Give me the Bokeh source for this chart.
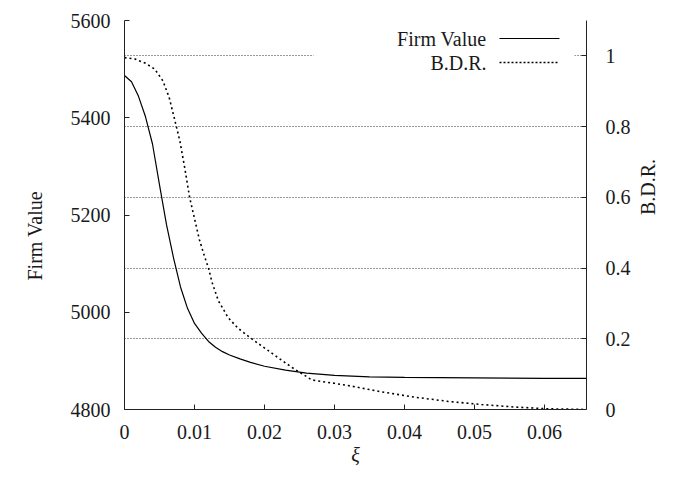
import math
from bokeh.plotting import figure
from bokeh.models import Range1d, LinearAxis, FixedTicker, Label, BoxAnnotation, Title
from bokeh.embed import file_html
from bokeh.resources import INLINE

# ---- data ----
fv_xi = [0, 0.001, 0.002, 0.003, 0.004, 0.005, 0.006, 0.007, 0.008, 0.009, 0.010,
         0.011, 0.012, 0.013, 0.014, 0.015, 0.0165, 0.018, 0.020, 0.023, 0.026,
         0.030, 0.035, 0.040, 0.050, 0.060, 0.066]
fv_val = [5487, 5474, 5444, 5402, 5346, 5262, 5180, 5112, 5052, 5008, 4977,
          4957, 4940, 4928, 4919, 4912, 4904, 4897, 4889, 4881, 4875,
          4870, 4867, 4866, 4865, 4864, 4864]

bdr_xi = [0, 0.0015, 0.003, 0.0043, 0.0055, 0.0064, 0.0071, 0.0079, 0.0086, 0.0093,
          0.0100, 0.0107, 0.0114, 0.0120, 0.0125, 0.0134, 0.0148, 0.0162, 0.0175,
          0.0190, 0.0205, 0.0224, 0.0240, 0.0257, 0.0267, 0.0275, 0.0300, 0.0330,
          0.0367, 0.0414, 0.0462, 0.0510, 0.0557, 0.0605, 0.0660]
bdr_val = [0.995, 0.991, 0.979, 0.963, 0.929, 0.881, 0.825, 0.760, 0.684, 0.600,
           0.540, 0.480, 0.435, 0.400, 0.360, 0.308, 0.260, 0.230, 0.210,
           0.188, 0.167, 0.140, 0.118, 0.097, 0.084, 0.081, 0.074, 0.064,
           0.050, 0.035, 0.023, 0.014, 0.007, 0.002, 0.000]

x_ticks = [0, 0.01, 0.02, 0.03, 0.04, 0.05, 0.06]
x_tick_labels = ["0", "0.01", "0.02", "0.03", "0.04", "0.05", "0.06"]
fv_ticks = [4800, 5000, 5200, 5400, 5600]
fv_tick_labels = ["4800", "5000", "5200", "5400", "5600"]
bdr_ticks = [0, 0.2, 0.4, 0.6, 0.8, 1.0]
bdr_tick_labels = ["0", "0.2", "0.4", "0.6", "0.8", "1"]

series_names = ["Firm Value", "B.D.R."]
x_title = "ξ"

FONT = "Liberation Serif"
TXT = "#1a1a1a"
FS = "20px"

X0, X1 = 0, 0.066
B0, B1 = 0, 1.1
F0, F1 = 4800, 5600

p = figure(width=669, height=461, output_backend="svg", toolbar_location=None,
           x_range=Range1d(X0, X1), y_range=Range1d(B0, B1),
           y_axis_location="right", min_border_left=123, min_border_right=84,
           min_border_top=20, min_border_bottom=52,
           frame_width=462, frame_height=389)
p.outline_line_color = None
p.background_fill_color = "white"
p.extra_y_ranges = {"fv": Range1d(F0, F1)}

# reference pixel -> data helpers (for legend placement)
def xd(px):
    return (px - 123) / 462 * (X1 - X0)

def yd(py):
    return (409 - py) / 389 * (B1 - B0)

# grids
p.xgrid.visible = False
p.ygrid.ticker = FixedTicker(ticks=bdr_ticks[1:])
p.ygrid.grid_line_color = "#333333"
p.ygrid.grid_line_dash = "1 2"
p.ygrid.grid_line_width = 1

# white box behind legend (blanks the grid line)
p.add_layout(BoxAnnotation(left=xd(312), right=xd(573), bottom=yd(76), top=yd(26),
                           fill_color="white", fill_alpha=1, line_alpha=0,
                           level="underlay"))

def style_axis(ax, ticks, labels, standoff):
    ax.ticker = FixedTicker(ticks=ticks)
    ax.major_label_overrides = {t: l for t, l in zip(ticks, labels)}
    ax.major_tick_in = 5
    ax.major_tick_out = 0
    ax.minor_tick_in = 0
    ax.minor_tick_out = 0
    ax.axis_line_color = "#222222"
    ax.major_tick_line_color = "#222222"
    ax.axis_line_width = 1
    ax.major_label_text_font = FONT
    ax.major_label_text_font_size = FS
    ax.major_label_text_color = TXT
    ax.major_label_standoff = standoff
    ax.axis_label_text_font = FONT
    ax.axis_label_text_font_size = FS
    ax.axis_label_text_color = TXT
    ax.axis_label_text_font_style = "normal"

xa = p.xaxis[0]
style_axis(xa, x_ticks, x_tick_labels, 15)
xa.axis_label = x_title
xa.axis_label_text_font_style = "italic"
xa.axis_label_standoff = 2

ra = p.yaxis[0]
style_axis(ra, bdr_ticks, bdr_tick_labels, 19)
ra.major_label_text_align = "left"
ra.axis_label = series_names[1]
ra.axis_label_standoff = 14
ra.axis_label_orientation = math.pi / 2

left_axis = LinearAxis(y_range_name="fv")
style_axis(left_axis, fv_ticks, fv_tick_labels, 14)
p.add_layout(left_axis, "left")

# left side title, placed to match the reference's vertical position
p.add_layout(Title(text=series_names[0], align="left", offset=129, standoff=43,
                   text_font=FONT, text_font_size=FS, text_color=TXT,
                   text_font_style="normal"), "left")

# curves
p.line(fv_xi, fv_val, y_range_name="fv", line_color="black", line_width=1.2)
p.line(bdr_xi, bdr_val, line_color="black", line_width=1.6, line_dash="2 3")

# legend (gnuplot style: label then sample)
leg_y = [yd(38), yd(62)]
for name, yy, dash in zip(series_names, leg_y, ["solid", "2 2"]):
    p.add_layout(Label(x=xd(485), y=yy, text=name, text_align="right",
                       text_baseline="middle", text_font=FONT, text_font_size=FS,
                       text_color=TXT))
    p.line([xd(498), xd(558)], [yy, yy], line_color="black",
           line_width=1.2 if dash == "solid" else 1.5, line_dash=dash)

open("out.html", "w").write(file_html(p, INLINE))
